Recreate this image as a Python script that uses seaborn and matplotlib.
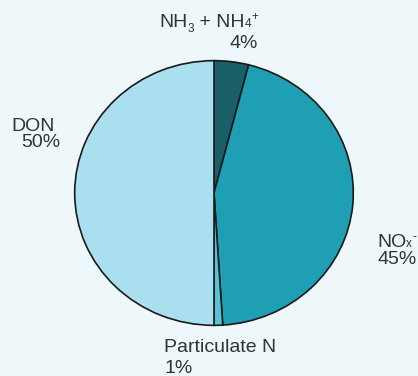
import matplotlib
matplotlib.use("Agg")
import matplotlib.pyplot as plt
import seaborn as sns

# Nitrogen deposition components (percent of total)
categories = ["NH3 + NH4+", "NOx-", "Particulate N", "DON"]
shares = [4, 45, 1, 50]
colors = ["#1a5e68", "#1f9fb3", "#56c4d8", "#aadff0"]

sns.set_theme(style="white")
plt.rcParams["font.family"] = ["Liberation Sans", "DejaVu Sans"]

W, H = 418, 376
bg = "#eef7f9"
fig = plt.figure(figsize=(W / 100, H / 100), dpi=100, facecolor=bg)

# pie area in pixel coordinates (left, top, right, bottom)
l, t, r, b = 74, 60, 354, 326
ax = fig.add_axes([l / W, 1 - b / H, (r - l) / W, (b - t) / H])
ax.set_facecolor(bg)
ax.pie(shares, colors=colors, startangle=90, counterclock=False,
       wedgeprops=dict(edgecolor="#1a1a1a", linewidth=1.2))
ax.set_aspect("auto")
ax.set_xlim(-1.005, 1.005)
ax.set_ylim(-1.005, 1.005)
ax.axis("off")

FS = 14
COL = "#333333"
renderer = fig.canvas.get_renderer()


def put(x, y, s, ha="left"):
    fig.text(x / W, 1 - y / H, s, ha=ha, va="baseline", fontsize=FS, color=COL)


def put_parts(x, y, parts, ha="left"):
    """Draw a label from pieces: (text, size, baseline shift in px)."""
    objs = []
    for s, size, dy in parts:
        o = fig.text(0, 0, s, fontsize=size, color=COL, va="baseline")
        objs.append((o, dy))
    widths = [o.get_window_extent(renderer).width for o, _ in objs]
    total = sum(widths)
    cx = x - total if ha == "right" else x
    for (o, dy), w in zip(objs, widths):
        o.set_position((cx / W, 1 - (y - dy) / H))
        cx += w


SMALL = 8.5
# NH3 + NH4+
put_parts(258, 27, [("NH", FS, 0), ("3", SMALL, -5), (" + NH", FS, 0),
                    ("4", SMALL, 0), ("+", SMALL, 7)], ha="right")
put(258, 48, f"{shares[0]}%", ha="right")
# NOx-
put_parts(377, 247, [("NO", FS, 0), ("x", SMALL, 0), ("-", SMALL, 7)])
put(377, 264, f"{shares[1]}%")
# Particulate N
put(164, 352, categories[2])
put(164, 373, f"{shares[2]}%")
# DON
put(11, 131, categories[3])
put(21, 147, f"{shares[3]}%")

fig.savefig("out.png", dpi=100, facecolor=bg)
